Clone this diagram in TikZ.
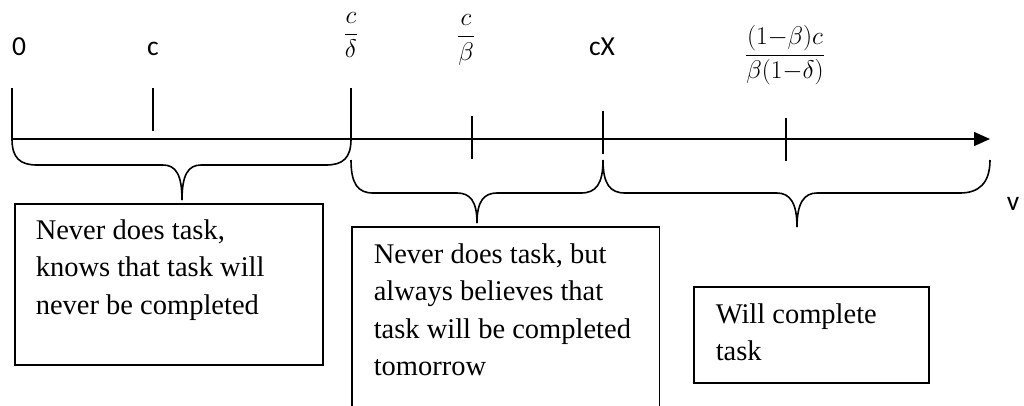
\documentclass[tikz,border=0pt]{standalone}
\usepackage{fix-cm}
\usepackage{fontspec}
\setmainfont{Liberation Serif}
\newfontfamily\calib{Carlito}
\usetikzlibrary{arrows.meta}
\begin{document}
\begin{tikzpicture}[x=1pt,y=-1pt, line width=1.5pt,
  lbl/.style={font=\fontsize{27.5}{32}\calib, inner sep=0, anchor=base},
  mth/.style={font=\fontsize{25.5}{30}\selectfont, inner sep=0},
  txt/.style={font=\fontsize{28.5}{37.5}\selectfont, align=left, anchor=north west, inner sep=0},
  boxr/.style={draw, line width=1.6pt, anchor=north west, inner sep=0},
  brace/.style={line width=1.6pt}]
\useasboundingbox (0,0) rectangle (1024,405);
% axis points
\coordinate (p0) at (12,139);
\coordinate (pc) at (153,139);
\coordinate (pd) at (351,139);
\coordinate (pb) at (472,139);
\coordinate (px) at (603,139);
\coordinate (pf) at (786,139);
\coordinate (pe) at (990,139);
% axis
\draw[-{Triangle[length=16pt,width=14pt]}] (p0) -- (pe);
\draw[line width=2pt] (453,139) -- (530,139);
% ticks
\draw (12,88) -- (p0);
\draw (153,88) -- (153,131);
\draw (351,88) -- (pd);
\draw (472,116) -- (472,159);
\draw (603,111) -- (603,154);
\draw (786,118) -- (786,161);
% labels
\node[lbl] (l0) at (19,55) {0};
\node[lbl] (lc) at (153,55) {c};
\node[lbl] (lx) at (602,55) {cX};
\node[lbl] (lv) at (1013,210) {v};
\node[mth] (fd) at (351,35) {$\displaystyle\frac{c}{\delta}$};
\node[mth] (fb) at (466,40) {$\displaystyle\frac{c}{\beta}$};
\node[mth] (ff) at (785,55) {$\displaystyle\frac{(1{-}\beta)c}{\beta(1{-}\delta)}$};
% braces
\draw[brace] (12,139) .. controls (12,158) and (20,165) .. (37,165) -- (163,165) .. controls (176,165) and (182,175) .. (182,200);
\draw[brace] (351,139) .. controls (351,158) and (343,165) .. (326,165) -- (201,165) .. controls (188,165) and (182,175) .. (182,200);
\draw[brace] (351,160) .. controls (351,184) and (358,193) .. (373,193) -- (457,193) .. controls (470,193) and (477,201) .. (477,223);
\draw[brace] (603,160) .. controls (603,184) and (596,193) .. (581,193) -- (497,193) .. controls (484,193) and (477,201) .. (477,223);
\draw[brace] (603,160) .. controls (603,184) and (610,193) .. (625,193) -- (777,193) .. controls (790,193) and (797,203) .. (797,227);
\draw[brace] (990,160) .. controls (990,184) and (978,193) .. (960,193) -- (817,193) .. controls (804,193) and (797,203) .. (797,227);
% boxes
\node[boxr, minimum width=308pt, minimum height=161pt] (b1) at (14,203) {};
\node[anchor=north west, inner sep=0, minimum width=306pt, minimum height=180pt] (b2) at (352,227) {};
\draw[line width=1.6pt] (b2.south west) -- (b2.north west) -- (b2.north east) -- (b2.south east);
\node[boxr, minimum width=235pt, minimum height=96pt] (b3) at (693,286) {};
% texts
\node[txt] (t1) at (35,218.5) {Never does task,\\knows that task will\\never be completed};
\node[txt] (t2) at (373,242.5) {Never does task, but\\always believes that\\task will be completed\\tomorrow};
\node[txt] (t3) at (715,302.5) {Will complete\\task};
\end{tikzpicture}
\end{document}
